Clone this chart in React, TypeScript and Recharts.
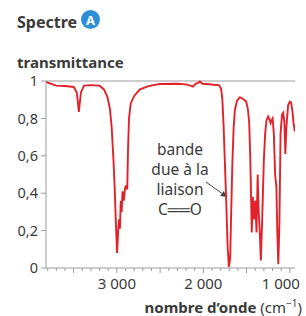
import { LineChart, Line, XAxis, YAxis, ReferenceLine } from "recharts";

// wavenumber (cm-1) and transmittance
const wavenumbers = [
  3820, 3760, 3700, 3600, 3500, 3465, 3450, 3440, 3430, 3415, 3380, 3300, 3200, 3150, 3110, 3080, 3060, 3040,
  3025, 3010, 2998, 2985, 2975, 2965, 2955, 2945, 2935, 2920, 2905, 2890, 2880, 2872, 2860, 2840, 2800, 2733,
  2650, 2580, 2500, 2300, 2200, 2150, 2120, 2090, 2060, 2040, 2010, 1960, 1880, 1820, 1795, 1780, 1765, 1750,
  1735, 1720, 1705, 1690, 1678, 1665, 1650, 1635, 1610, 1580, 1560, 1530, 1505, 1485, 1470, 1458, 1448, 1440,
  1428, 1415, 1400, 1385, 1372, 1360, 1348, 1335, 1320, 1300, 1285, 1269, 1250, 1235, 1222, 1210, 1199, 1185,
  1170, 1155, 1145, 1133, 1120, 1107, 1090, 1077, 1063, 1052, 1040, 1020, 1000, 985, 970, 958, 942,
];
const transmittance = [
  0.995, 0.985, 0.975, 0.973, 0.968, 0.94, 0.88, 0.835, 0.88, 0.94, 0.975, 0.978, 0.975, 0.955, 0.915, 0.85, 0.75, 0.58,
  0.42, 0.22, 0.08, 0.2, 0.26, 0.21, 0.36, 0.3, 0.41, 0.36, 0.43, 0.44, 0.42, 0.62, 0.8, 0.88, 0.92, 0.955,
  0.97, 0.978, 0.984, 0.985, 0.982, 0.975, 0.97, 0.985, 0.99, 0.997, 0.985, 0.984, 0.98, 0.978, 0.96, 0.9, 0.75, 0.55,
  0.35, 0.12, 0.005, 0.05, 0.3, 0.55, 0.75, 0.845, 0.895, 0.913, 0.91, 0.9, 0.89, 0.85, 0.78, 0.6, 0.38, 0.19,
  0.38, 0.26, 0.36, 0.19, 0.5, 0.3, 0.2, 0.04, 0.25, 0.58, 0.72, 0.79, 0.81, 0.795, 0.775, 0.79, 0.8, 0.72,
  0.5, 0.43, 0.2, 0.02, 0.25, 0.72, 0.82, 0.83, 0.78, 0.61, 0.75, 0.87, 0.89, 0.885, 0.84, 0.78, 0.73,
];
const xTicks = [3800, 3700, 3600, 3500, 3400, 3300, 3200, 3100, 3000, 2900, 2800, 2700, 2600, 2500, 2400, 2300,
  2200, 2100, 2000, 1900, 1800, 1700, 1600, 1500, 1400, 1300, 1200, 1100, 1000];
const yTicks = [0, 0.2, 0.4, 0.6, 0.8, 1];
const noteLines = ["bande", "due à la", "liaison", "C══O"];

const data = wavenumbers.map((wn, i) => ({ wn, t: transmittance[i] }));

const FONT = "'Noto Sans', 'Open Sans', sans-serif";
const TEXT = "#3a3a3a";
const AXIS = "#9c9c9c";

const fmt = (v: number) => (v >= 1000 ? `${Math.floor(v / 1000)} ${String(v % 1000).padStart(3, "0")}` : String(v));

function XTick({ x, y, payload }: any) {
  const v = payload.value;
  const major = v % 500 === 0;
  const labelled = v % 1000 === 0;
  return (
    <g>
      <line x1={x} x2={x} y1={y} y2={y + (major ? 5 : 3)} stroke={AXIS} />
      {labelled && (
        <text x={x} y={y + 21} dx={v === 1000 ? -9 : 0} textAnchor="middle" fontSize={15} fontFamily={FONT} fill={TEXT}>
          {fmt(v)}
        </text>
      )}
    </g>
  );
}

function Arrow({ x1, y1, x2, y2 }: any) {
  const a = Math.atan2(y2 - y1, x2 - x1);
  const l = 6;
  const w = 3;
  const bx = x2 - l * Math.cos(a);
  const by = y2 - l * Math.sin(a);
  return (
    <g>
      <line x1={x1} y1={y1} x2={bx} y2={by} stroke="#444" strokeWidth={1} />
      <polygon
        points={`${x2},${y2} ${bx + w * Math.sin(a)},${by - w * Math.cos(a)} ${bx - w * Math.sin(a)},${by + w * Math.cos(a)}`}
        fill="#444"
      />
    </g>
  );
}

export default function App() {
  return (
    <div style={{ position: "absolute", left: 0, top: 0, width: 306, height: 316, background: "#fff" }}>
      <LineChart width={306} height={316} data={data} margin={{ top: 81, right: 11, left: 6, bottom: 0 }}>
        <XAxis
          dataKey="wn"
          type="number"
          domain={[940, 3820]}
          reversed
          allowDataOverflow
          ticks={xTicks}
          interval={0}
          tickSize={0}
          tickMargin={0}
          tickLine={false}
          height={48}
          axisLine={{ stroke: AXIS }}
          tick={<XTick />}
        />
        <YAxis
          domain={[0, 1]}
          ticks={yTicks}
          width={40}
          tickSize={5}
          tickMargin={3}
          axisLine={{ stroke: AXIS }}
          tickLine={{ stroke: AXIS }}
          tickFormatter={(v: number) => String(v).replace(".", ",")}
          tick={{ fontSize: 14.5, fontFamily: FONT, fill: TEXT }}
        />
        <ReferenceLine y={1} stroke={AXIS} />
        <ReferenceLine
          segment={[
            { x: 1970, y: 0.46 },
            { x: 1728, y: 0.38 },
          ]}
          shape={<Arrow />}
        />
        <Line
          type="linear"
          dataKey="t"
          stroke="#e2222b"
          strokeWidth={1.9}
          dot={false}
          isAnimationActive={false}
        />
      </LineChart>
      <svg width={306} height={316} style={{ position: "absolute", left: 0, top: 0, pointerEvents: "none" }}>
        <text x={17} y={28} fontSize={16} fontWeight={700} fontFamily={FONT} fill={TEXT}>
          Spectre
        </text>
        <circle cx={90.5} cy={19.5} r={9.5} fill="#2e8fd6" />
        <text x={90.5} y={24.5} textAnchor="middle" fontSize={13} fontWeight={700} fontFamily={FONT} fill="#fff">
          A
        </text>
        <text x={17} y={68} fontSize={15} fontWeight={700} fontFamily={FONT} fill={TEXT}>
          transmittance
        </text>
        {noteLines.map((s, i) => (
          <text key={s} x={180} y={155 + i * 20} textAnchor="middle" fontSize={15.5} fontFamily={FONT} fill={TEXT}>
            {s}
          </text>
        ))}
        <text x={302} y={313} textAnchor="end" fontSize={15} fontFamily={FONT} fill={TEXT}>
          <tspan fontWeight={700}>nombre d’onde</tspan>
          <tspan> (cm</tspan>
          <tspan dy={-6} fontSize={10}>−1</tspan>
          <tspan dy={6}>)</tspan>
        </text>
      </svg>
    </div>
  );
}
